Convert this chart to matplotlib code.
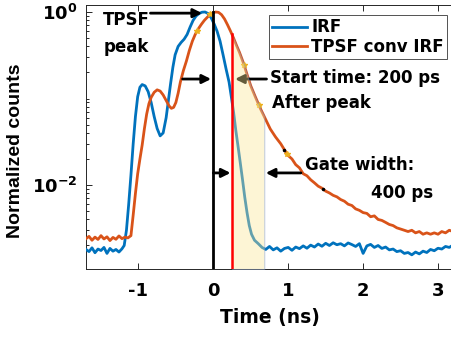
import numpy as np
import matplotlib
matplotlib.use("Agg")
import matplotlib.pyplot as plt
from matplotlib.ticker import FixedLocator, LogLocator, NullFormatter

plt.rcParams["font.family"] = ["DejaVu Sans"]
plt.rcParams["mathtext.fontset"] = "custom"
plt.rcParams["mathtext.bf"] = "DejaVu Sans:bold"
plt.rcParams["mathtext.rm"] = "DejaVu Sans:bold"
plt.rcParams["mathtext.default"] = "bf"

# ---------------- data ----------------
# Instrument response function (normalized counts vs time in ns)
irf_t = [-1.70, -1.66, -1.62, -1.58, -1.54, -1.50, -1.46, -1.42, -1.38, -1.34,
         -1.30, -1.26, -1.22, -1.19, -1.16, -1.13, -1.10, -1.07, -1.04, -1.01,
         -0.98, -0.95, -0.91, -0.87, -0.83, -0.79, -0.75, -0.71, -0.67, -0.63,
         -0.60, -0.57, -0.54, -0.51, -0.47, -0.43, -0.39, -0.35, -0.31, -0.27,
         -0.23, -0.19, -0.15, -0.11, -0.07, -0.03, 0.01, 0.05, 0.09, 0.13,
         0.17, 0.21, 0.24, 0.27, 0.30, 0.33, 0.36, 0.39, 0.42, 0.45,
         0.48, 0.51, 0.55, 0.60, 0.65,
         0.70, 0.75, 0.80, 0.85, 0.90, 0.95, 1.00, 1.05, 1.10, 1.15,
         1.20, 1.25, 1.30, 1.35, 1.40, 1.45, 1.50, 1.55, 1.60, 1.65,
         1.70, 1.75, 1.80, 1.85, 1.90, 1.95, 2.00, 2.05, 2.10, 2.15,
         2.20, 2.25, 2.30, 2.35, 2.40, 2.45, 2.50, 2.55, 2.60, 2.65,
         2.70, 2.75, 2.80, 2.85, 2.90, 2.95, 3.00, 3.05, 3.10, 3.15, 3.20]
irf_counts = [1.80e-3, 1.70e-3, 1.88e-3, 1.65e-3, 1.82e-3, 1.75e-3, 1.90e-3, 1.62e-3, 1.85e-3, 1.72e-3,
              1.80e-3, 1.68e-3, 1.83e-3, 2.0e-3, 3.0e-3, 6.0e-3, 0.013, 0.030, 0.062, 0.105,
              0.135, 0.145, 0.140, 0.120, 0.090, 0.062, 0.045, 0.037, 0.040, 0.060,
              0.095, 0.150, 0.230, 0.320, 0.400, 0.445, 0.485, 0.550, 0.670, 0.800,
              0.900, 0.960, 0.995, 1.0, 0.96, 0.86, 0.73, 0.60, 0.46, 0.32,
              0.22, 0.155, 0.105, 0.070, 0.043, 0.028, 0.018, 0.0115, 0.0072, 0.0048,
              0.0034, 0.0027, 0.0023, 0.0021, 0.0019,
              1.80e-3, 1.95e-3, 1.78e-3, 1.88e-3, 1.72e-3, 1.85e-3, 1.90e-3, 1.76e-3, 1.92e-3, 1.84e-3,
              1.98e-3, 1.86e-3, 2.02e-3, 1.92e-3, 2.08e-3, 1.96e-3, 2.12e-3, 2.00e-3, 2.15e-3, 2.04e-3,
              2.10e-3, 1.98e-3, 2.14e-3, 2.05e-3, 1.95e-3, 2.10e-3, 1.62e-3, 1.98e-3, 2.06e-3, 1.90e-3,
              2.00e-3, 1.85e-3, 1.92e-3, 1.78e-3, 1.82e-3, 1.70e-3, 1.74e-3, 1.62e-3, 1.66e-3, 1.56e-3,
              1.68e-3, 1.60e-3, 1.72e-3, 1.66e-3, 1.80e-3, 1.74e-3, 1.86e-3, 1.82e-3, 1.95e-3, 1.90e-3, 2.02e-3]

# Temporal point spread function convolved with the IRF
tpsf_t = [-1.70, -1.66, -1.62, -1.58, -1.54, -1.50, -1.46, -1.42, -1.38, -1.34,
          -1.30, -1.26, -1.22, -1.18, -1.14, -1.10, -1.07, -1.04, -1.01, -0.98,
          -0.95, -0.92, -0.89, -0.86, -0.83, -0.79, -0.75, -0.71, -0.67, -0.63,
          -0.59, -0.56, -0.53, -0.50, -0.47, -0.44, -0.40, -0.36, -0.32, -0.28,
          -0.24, -0.20, -0.16, -0.12, -0.08, -0.04, 0.00, 0.03, 0.07, 0.11,
          0.15, 0.19, 0.23, 0.27, 0.31, 0.35, 0.40, 0.45, 0.50, 0.56,
          0.63, 0.70, 0.76, 0.83, 0.90, 0.95,
          1.00, 1.05, 1.10, 1.15, 1.20, 1.25, 1.30, 1.35, 1.40, 1.45,
          1.50, 1.55, 1.60, 1.65, 1.70, 1.75, 1.80, 1.85, 1.90, 1.95,
          2.00, 2.05, 2.10, 2.15, 2.20, 2.25, 2.30, 2.35, 2.40, 2.45,
          2.50, 2.55, 2.60, 2.65, 2.70, 2.75, 2.80, 2.85, 2.90, 2.95,
          3.00, 3.05, 3.10, 3.15, 3.20]
tpsf_counts = [2.40e-3, 2.55e-3, 2.30e-3, 2.50e-3, 2.35e-3, 2.60e-3, 2.38e-3, 2.52e-3, 2.28e-3, 2.48e-3,
               2.36e-3, 2.58e-3, 2.40e-3, 2.50e-3, 2.45e-3, 2.60e-3, 4.5e-3, 8.0e-3, 0.0135, 0.020,
               0.029, 0.045, 0.066, 0.087, 0.103, 0.118, 0.126, 0.122, 0.110, 0.095,
               0.082, 0.077, 0.079, 0.090, 0.115, 0.155, 0.210, 0.270, 0.360, 0.460,
               0.555, 0.640, 0.720, 0.800, 0.870, 0.935, 0.980, 1.0, 0.99, 0.93,
               0.83, 0.71, 0.60, 0.50, 0.41, 0.34, 0.26, 0.19, 0.140, 0.105,
               0.076, 0.057, 0.0445, 0.036, 0.030, 0.0255,
               0.0219, 0.0200, 0.0172, 0.0158, 0.0135, 0.0128, 0.0115, 0.0106, 0.0097, 0.0092,
               0.0085, 0.0081, 0.0076, 0.0073, 0.0068, 0.0065, 0.0060, 0.0058, 0.0053, 0.0051,
               0.0048, 0.0047, 0.0043, 0.0044, 0.0040, 0.0039, 0.0037, 0.0035, 0.0034, 0.0032,
               0.0031, 0.0030, 0.0029, 0.0030, 0.0028, 0.0029, 0.0027, 0.0028, 0.0027, 0.0028,
               0.0027, 0.0029, 0.0028, 0.0030, 0.0029]

# fit sample markers along the TPSF curve
fit_star_t = [-0.22, -0.05, 0.41, 0.61, 0.98]
fit_star_counts = [0.60, 0.95, 0.245, 0.085, 0.023]
fit_dot_t = [0.95, 1.46]
fit_dot_counts = [0.0255, 0.0090]

peak_time = 0.0        # ns
gate_start = 0.25      # ns, start of the time gate
gate_end = 0.68        # ns, end of the time gate

x_ticks = [-1, 0, 1, 2, 3]
y_major = [1e-2, 1e0]

xlim = (-1.70, 3.20)
ylim = (1.07e-3, 1.205)

BLUE = "#0072BD"
ORANGE = "#D95319"

# ---------------- figure ----------------
fig = plt.figure(figsize=(4.52, 3.39), dpi=100)
ax = fig.add_axes([86 / 452, 1 - 269 / 339, 367 / 452, 264 / 339])
ax.set_yscale("log")

ax.plot(irf_t, irf_counts, color=BLUE, lw=2.0, label="IRF", zorder=3)
ax.plot(tpsf_t, tpsf_counts, color=ORANGE, lw=2.0, label="TPSF conv IRF", zorder=3)
ax.plot(fit_star_t, fit_star_counts, ls="none", marker="*", ms=4, color="#EDB120", zorder=4)
ax.plot(fit_dot_t, fit_dot_counts, ls="none", marker="o", ms=1.5, color="k", zorder=4)

# gate shading under the TPSF curve
t_arr = np.array(tpsf_t)
c_arr = np.array(tpsf_counts)
inside = (t_arr > gate_start) & (t_arr < gate_end)
gate_top_start = np.interp(gate_start, t_arr, c_arr)
gate_top_end = np.interp(gate_end, t_arr, c_arr)
gx = np.concatenate([[gate_start], t_arr[inside], [gate_end]])
gy = np.concatenate([[gate_top_start], c_arr[inside], [gate_top_end]])
ax.fill_between(gx, ylim[0], gy, facecolor="#fae696", alpha=0.4,
                edgecolor="#6f8fd0", lw=0.8, zorder=5)

# peak line and gate start line
ax.plot([peak_time, peak_time], [ylim[0], 1.0], color="k", lw=2.0, zorder=6)
ax.plot([gate_start, gate_start], [ylim[0], gate_top_start], color="#ff0000", lw=1.8, zorder=6)

ax.set_xlim(*xlim)
ax.set_ylim(*ylim)

# ticks
ax.xaxis.set_major_locator(FixedLocator(x_ticks))
ax.yaxis.set_major_locator(FixedLocator(y_major))
ax.yaxis.set_minor_locator(LogLocator(base=10, subs=np.arange(1, 10) * 1.0, numticks=20))
ax.yaxis.set_minor_formatter(NullFormatter())
ax.set_yticklabels([r"$10^{-2}$", r"$10^{0}$"])
ax.set_xticklabels([str(v) for v in x_ticks])
ax.tick_params(axis="both", which="both", direction="in", top=True, right=False,
               colors="#262626", width=0.7)
ax.tick_params(axis="both", which="major", length=4, labelsize=13, labelcolor="k")
ax.tick_params(axis="x", which="major", pad=9)
ax.tick_params(axis="y", which="major", pad=6)
ax.tick_params(axis="y", which="minor", length=2.5)
ax.tick_params(axis="x", which="minor", top=False, bottom=False)
for lab in ax.get_xticklabels():
    lab.set_fontweight("bold")
ax.spines["right"].set_visible(False)
for s in ("left", "top", "bottom"):
    ax.spines[s].set_color("#262626")
    ax.spines[s].set_linewidth(0.7)

ax.set_xlabel("Time (ns)", fontsize=13.5, fontweight="bold", labelpad=6)
ax.set_ylabel("Normalized counts", fontsize=14, fontweight="bold",
              family=["Liberation Sans", "DejaVu Sans"])
ax.yaxis.set_label_coords(-0.17, 0.447)

# annotations
ann_font = dict(family=["DejaVu Sans"], fontweight="bold", fontsize=12, color="k")
arrow_kw = dict(arrowstyle="-|>", lw=2.0, color="k", mutation_scale=13, shrinkA=0, shrinkB=0)

ax.annotate("", xy=(-0.15, 0.97), xytext=(-0.84, 0.97), arrowprops=arrow_kw, zorder=7)
ax.text(-1.47, 0.80, "TPSF", va="center", ha="left", **ann_font)
ax.text(-1.47, 0.39, "peak", va="center", ha="left", **ann_font)

ax.annotate("", xy=(-0.03, 0.168), xytext=(-0.41, 0.168), arrowprops=arrow_kw, zorder=7)

ax.annotate("", xy=(0.29, 0.168), xytext=(0.71, 0.168), arrowprops=arrow_kw, zorder=4)
ax.text(0.76, 0.172, "Start time: 200 ps", va="center", ha="left", **ann_font)
ax.text(0.79, 0.089, "After peak", va="center", ha="left", **ann_font)

ax.annotate("", xy=(0.23, 0.0138), xytext=(0.0, 0.0138), arrowprops=arrow_kw, zorder=7)
ax.annotate("", xy=(0.70, 0.0138), xytext=(1.17, 0.0138), arrowprops=arrow_kw, zorder=7)
ax.text(1.22, 0.0170, "Gate width:", va="center", ha="left", **ann_font)
ax.text(2.10, 0.0080, "400 ps", va="center", ha="left", **ann_font)

leg = ax.legend(loc="upper right", bbox_to_anchor=(447 / 452, 1 - 15 / 339),
                bbox_transform=fig.transFigure, frameon=True, fancybox=False,
                prop=dict(family=["DejaVu Sans"], weight="bold", size=12),
                handlelength=2.1, handletextpad=0.25, borderpad=0.2, labelspacing=0.1,
                borderaxespad=0)
leg.get_frame().set_edgecolor("#262626")
leg.get_frame().set_linewidth(0.7)
leg.set_zorder(8)

fig.savefig("out.png", dpi=100)
